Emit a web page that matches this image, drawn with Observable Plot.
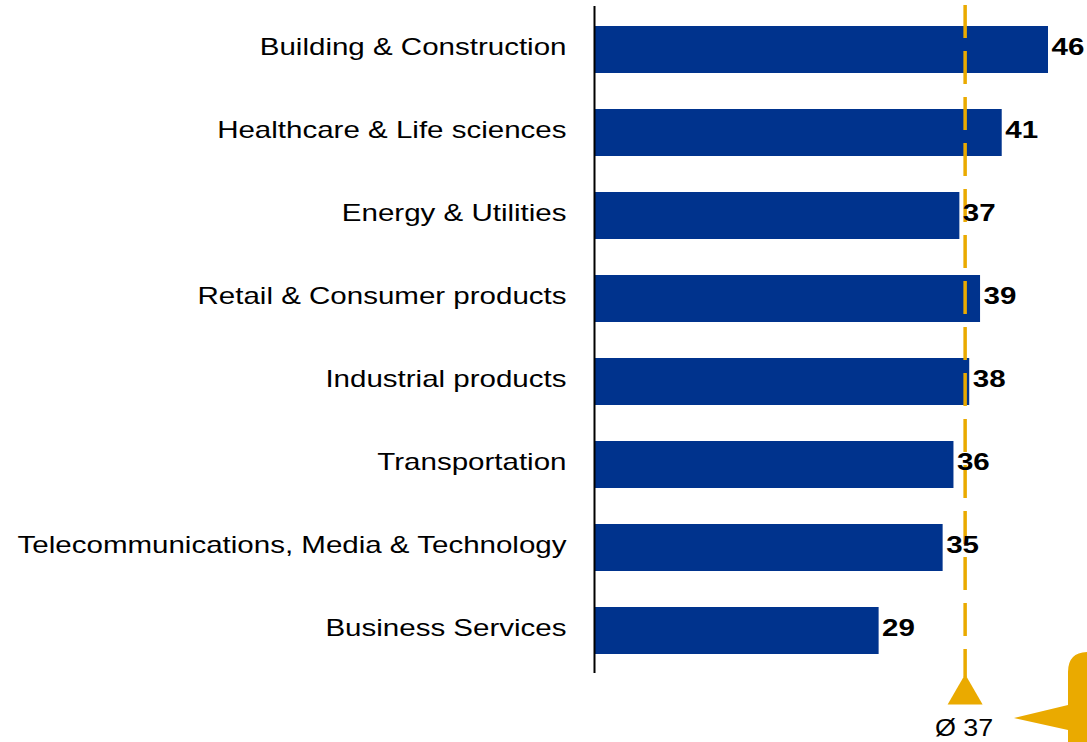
<!DOCTYPE html>
<html>
<head>
<meta charset="utf-8">
<script src="https://cdn.jsdelivr.net/npm/d3@7"></script>
<script src="https://cdn.jsdelivr.net/npm/@observablehq/plot@0.6"></script>
<style>
  html, body { margin: 0; padding: 0; background: #fff; }
  #chart { width: 1087px; height: 742px; overflow: hidden; }
  svg { font-family: "Liberation Sans", Arial, sans-serif; }
</style>
</head>
<body>
<div id="chart"></div>
<script>
const categories = [
  "Building & Construction",
  "Healthcare & Life sciences",
  "Energy & Utilities",
  "Retail & Consumer products",
  "Industrial products",
  "Transportation",
  "Telecommunications, Media & Technology",
  "Business Services"
];
const values = [46, 41.3, 37, 39.1, 38, 36.4, 35.3, 28.8];
const averageLabel = "Ø 37";

const data = categories.map((c, i) => ({category: c, value: values[i]}));
const mean = d3.mean(values);

const blue = "#00338D";
const gold = "#EAAA00";

const callout = (index, scales, values, dims) => {
  const W = dims.width, H = dims.height;
  const g = d3.create("svg:g");
  const left = W - 19, top = H - 90, r = 20;
  g.append("path")
    .attr("fill", gold)
    .attr("d", `M${left},${top + r} Q${left},${top} ${left + r},${top} L${W + 40},${top} L${W + 40},${H + 10} L${left},${H + 10} L${left},${H - 12} L${left - 54},${H - 24} L${left},${H - 37} Z`);
  return g.node();
};

const chart = Plot.plot({
  width: 1087,
  height: 742,
  marginLeft: 595,
  marginRight: 39,
  marginTop: 6,
  marginBottom: 69,
  style: {fontFamily: "'Liberation Sans', Arial, sans-serif", overflow: "visible"},
  x: {domain: [0, 46], axis: null},
  y: {domain: categories, paddingInner: 0.437, paddingOuter: 0.216, label: null},
  marks: [
    Plot.axisY({tickSize: 0, tickPadding: 29, fontSize: 24, fill: "#000", label: null, dy: -3, className: "wide"}),
    Plot.barX(data, {x: "value", y: "category", fill: blue}),
    Plot.ruleX([mean], {stroke: gold, strokeWidth: 3.5, strokeDasharray: "33,13", insetTop: -1, insetBottom: -4, dx: -2}),
    Plot.dot([mean], {x: d => d, frameAnchor: "bottom", symbol: "triangle", r: 13, fill: gold, stroke: "none", dy: 21, dx: -2}),
    Plot.text(data, {x: "value", y: "category", text: d => String(Math.round(d.value)), textAnchor: "start", dx: 3, dy: -3, fontSize: 24, fontWeight: "bold", fill: "#000", className: "wide"}),
    Plot.text([averageLabel], {x: () => mean, frameAnchor: "bottom", lineAnchor: "middle", dy: 55, dx: -3, fontSize: 24, fill: "#000", text: d => d, className: "avg"}),
    Plot.ruleX([0], {stroke: "#000", strokeWidth: 2, dx: -1}),
    callout
  ]
});

function stretch(selector, s) {
  d3.select(chart).selectAll(selector + " text").each(function() {
    const x = +this.getAttribute("x") || 0;
    this.removeAttribute("x");
    const t = this.getAttribute("transform") || "";
    this.setAttribute("transform", `${t} translate(${x},0) scale(${s},1)`);
  });
}
stretch(".wide", 1.23);
stretch(".avg", 1.12);

document.getElementById("chart").appendChild(chart);
</script>
</body>
</html>
